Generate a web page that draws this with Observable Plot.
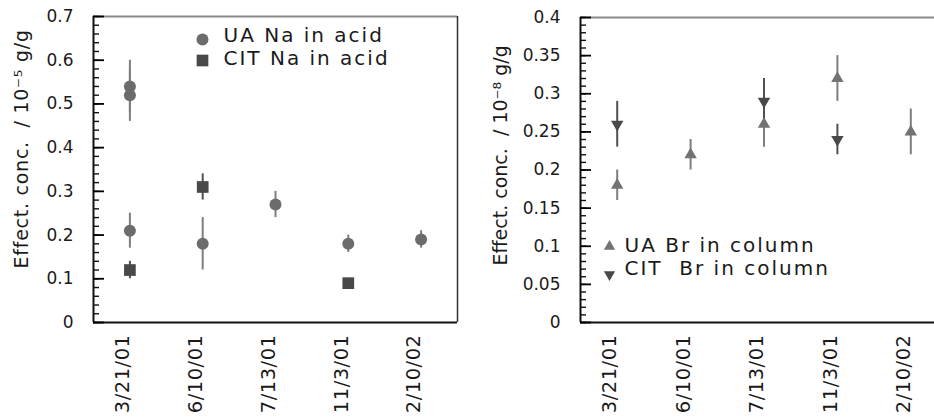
<!DOCTYPE html>
<html><head><meta charset="utf-8">
<script src="https://cdn.jsdelivr.net/npm/d3@7"></script>
<script src="https://cdn.jsdelivr.net/npm/@observablehq/plot@0.6"></script>
<style>
html,body{margin:0;padding:0;background:#fff;}
#wrap{position:relative;width:934px;height:418px;overflow:hidden;background:#fff;}
#wrap > svg{position:absolute;top:0;max-width:none !important;}
text.yt-left{letter-spacing:0.75px;}
text.yt-right{letter-spacing:0px;}
text.leg{letter-spacing:2px;}
text.xlab{letter-spacing:0.5px;}
</style></head><body><div id="wrap"></div>
<script>
// Categories (sampling dates)
const dates = ["3/21/01", "6/10/01", "7/13/01", "11/3/01", "2/10/02"];

// Left panel: Na in acid (10^-5 g/g)
const uaNaDate  = ["3/21/01", "3/21/01", "3/21/01", "6/10/01", "7/13/01", "11/3/01", "2/10/02"];
const uaNaValue = [0.54, 0.52, 0.21, 0.18, 0.27, 0.18, 0.19];
const uaNaError = [0.06, 0.06, 0.04, 0.06, 0.03, 0.02, 0.02];
const citNaDate  = ["3/21/01", "6/10/01", "11/3/01"];
const citNaValue = [0.12, 0.31, 0.09];
const citNaError = [0.02, 0.03, 0];

// Right panel: Br in column (10^-8 g/g)
const uaBrDate  = ["3/21/01", "6/10/01", "7/13/01", "11/3/01", "2/10/02"];
const uaBrValue = [0.18, 0.22, 0.26, 0.32, 0.25];
const uaBrError = [0.02, 0.02, 0.03, 0.03, 0.03];
const citBrDate  = ["3/21/01", "7/13/01", "11/3/01"];
const citBrValue = [0.26, 0.29, 0.24];
const citBrError = [0.03, 0.03, 0.02];

// Axis ticks / labels
const yTicksLeft  = [0, 0.1, 0.2, 0.3, 0.4, 0.5, 0.6, 0.7];
const yTicksRight = [0, 0.05, 0.1, 0.15, 0.2, 0.25, 0.3, 0.35, 0.4];
const yTitleLeft  = "Effect. conc.\u00a0\u00a0/ 10\u207b\u2075 g/g";
const yTitleRight = "Effect. conc.\u00a0\u00a0/ 10\u207b\u2078 g/g";
const legendLeft  = ["UA Na in acid", "CIT Na in acid"];
const legendRight = ["UA Br in column", "CIT\u00a0\u00a0Br in column"];

const uaColor = "#6c6c6e", uaBar = "#7e7e7e";
const citColor = "#49494b", citBar = "#505050";
const font = "DejaVu Sans";

function rows(ds, vs, es) {
  return ds.map((d, k) => ({i: dates.indexOf(d), v: vs[k], e: es[k]}));
}
const idx = d3.range(dates.length);
const xDomain = [-0.5, dates.length - 0.5];

function frameMarks(ymax, showRight) {
  return [
    Plot.ruleY([ymax], {stroke: "#8a8a8a", strokeWidth: 2}),
    Plot.ruleY([0], {stroke: "#111", strokeWidth: 2}),
    Plot.ruleX([xDomain[0]], {stroke: "#111", strokeWidth: 2}),
    showRight ? Plot.ruleX([xDomain[1]], {stroke: "#333", strokeWidth: 1.5}) : null,
    Plot.axisY({ticks: [], tickSize: 0, label: null}),
    Plot.axisX({ticks: idx, tickFormat: i => dates[i], tickRotate: -90, tickSize: 0, tickPadding: 12,
      fontSize: 19.5, dx: -7, fill: "#1a1a1a", label: null})
  ];
}
// inward minor / major ticks and tick labels, drawn on top of everything
function tickMarks(ymax, minorStep, majorTicks, frameW) {
  const minor = d3.range(0, Math.round(ymax / minorStep) + 1).map(k => +(k * minorStep).toFixed(4));
  return [
    Plot.tickY(minor, {y: d => d, insetRight: frameW - 6, stroke: "#111", strokeWidth: 1.4}),
    Plot.tickY(majorTicks, {y: d => d, insetRight: frameW - 11, stroke: "#000", strokeWidth: 1.8}),
    Plot.text(majorTicks, {y: d => d, text: d => String(d), frameAnchor: "left", dx: -20, textAnchor: "end",
      lineAnchor: "middle", fontSize: 17, fill: "#1a1a1a"})
  ];
}

const ua = rows(uaNaDate, uaNaValue, uaNaError);
const citNa = rows(citNaDate, citNaValue, citNaError);

const left = Plot.plot({
  width: 470, height: 418,
  marginLeft: 93, marginRight: 13, marginTop: 16, marginBottom: 96,
  style: {fontFamily: font, background: "white", color: "#1a1a1a"},
  x: {type: "linear", domain: xDomain, label: null},
  y: {domain: [0, 0.7], label: null},
  marks: [
    ...frameMarks(0.7, true),
    Plot.ruleX(ua.filter(d => d.e > 0), {x: "i", y1: d => d.v - d.e, y2: d => d.v + d.e, stroke: uaBar, strokeWidth: 2}),
    Plot.ruleX(citNa.filter(d => d.e > 0), {x: "i", y1: d => d.v - d.e, y2: d => d.v + d.e, stroke: citBar, strokeWidth: 2}),
    Plot.dot(ua, {x: "i", y: "v", r: 6, fill: uaColor, symbol: "circle"}),
    Plot.dot(citNa, {x: "i", y: "v", r: 6.6, fill: citColor, symbol: "square"}),
    Plot.text([yTitleLeft], {text: d => d, frameAnchor: "bottom-left", rotate: -90, textAnchor: "start",
      lineAnchor: "middle", dx: -72, dy: -54, fontSize: 19, fill: "#1a1a1a"}),
    Plot.dot([legendLeft[0]], {frameAnchor: "top-left", dx: 109, dy: 23, r: 6, fill: uaColor, symbol: "circle"}),
    Plot.dot([legendLeft[1]], {frameAnchor: "top-left", dx: 109, dy: 44, r: 6.6, fill: citColor, symbol: "square"}),
    Plot.text([legendLeft[0]], {text: d => d, frameAnchor: "top-left", dx: 130, dy: 19.5, textAnchor: "start",
      lineAnchor: "middle", fontSize: 20, fill: "#1a1a1a"}),
    Plot.text([legendLeft[1]], {text: d => d, frameAnchor: "top-left", dx: 130, dy: 42.5, textAnchor: "start",
      lineAnchor: "middle", fontSize: 20, fill: "#1a1a1a"}),
    ...tickMarks(0.7, 0.02, yTicksLeft, 364)
  ]
});

const uaBr = rows(uaBrDate, uaBrValue, uaBrError);
const citBr = rows(citBrDate, citBrValue, citBrError);

const right = Plot.plot({
  width: 477, height: 418,
  marginLeft: 110, marginRight: 0, marginTop: 17, marginBottom: 96,
  style: {fontFamily: font, background: "white", color: "#1a1a1a"},
  x: {type: "linear", domain: xDomain, label: null},
  y: {domain: [0, 0.4], label: null},
  marks: [
    ...frameMarks(0.4, false),
    Plot.ruleX(uaBr, {x: "i", y1: d => d.v - d.e, y2: d => d.v + d.e, stroke: uaBar, strokeWidth: 2}),
    Plot.ruleX(citBr, {x: "i", y1: d => d.v - d.e, y2: d => d.v + d.e, stroke: citBar, strokeWidth: 2}),
    Plot.dot(uaBr, {x: "i", y: "v", r: 4.6, fill: "#737373", symbol: "triangle"}),
    Plot.dot(citBr, {x: "i", y: "v", r: 4.6, fill: citColor, symbol: "triangle", rotate: 180}),
    Plot.text([yTitleRight], {text: d => d, frameAnchor: "bottom-left", rotate: -90, textAnchor: "start",
      lineAnchor: "middle", dx: -80, dy: -57, fontSize: 19, fill: "#1a1a1a"}),
    Plot.dot([legendRight[0]], {frameAnchor: "top-left", dx: 29, dy: 229, r: 4.2, fill: "#737373", symbol: "triangle"}),
    Plot.dot([legendRight[1]], {frameAnchor: "top-left", dx: 29, dy: 257, r: 4.2, fill: citColor, symbol: "triangle", rotate: 180}),
    Plot.text([legendRight[0]], {text: d => d, frameAnchor: "top-left", dx: 44, dy: 228, textAnchor: "start",
      lineAnchor: "middle", fontSize: 20, fill: "#1a1a1a"}),
    Plot.text([legendRight[1]], {text: d => d, frameAnchor: "top-left", dx: 44, dy: 251, textAnchor: "start",
      lineAnchor: "middle", fontSize: 20, fill: "#1a1a1a"}),
    ...tickMarks(0.4, 0.01, yTicksRight, 367)
  ]
});

// letter-spacing to mimic the wide original typeface
function tagTexts(svg, yTitle, legends) {
  svg.querySelectorAll("text").forEach(t => {
    const s = t.textContent;
    if (s === yTitle) t.classList.add(yTitle === yTitleLeft ? "yt-left" : "yt-right");
    else if (legends.includes(s)) t.classList.add("leg");
    else if (dates.includes(s)) t.classList.add("xlab");
  });
}
tagTexts(left, yTitleLeft, legendLeft);
tagTexts(right, yTitleRight, legendRight);

left.style.left = "0px";
right.style.left = "470px";
const wrap = document.getElementById("wrap");
wrap.appendChild(left);
wrap.appendChild(right);
</script>
</body></html>
